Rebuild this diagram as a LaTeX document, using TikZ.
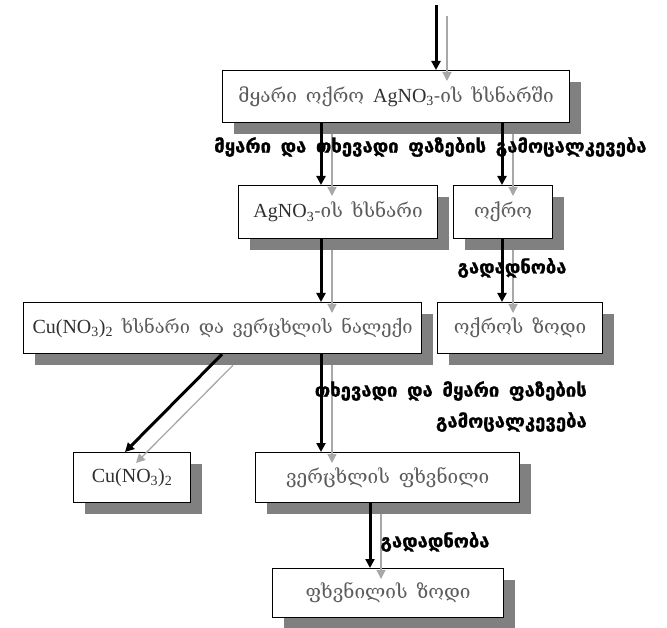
\documentclass[tikz,border=0pt]{standalone}
\usepackage{fontspec}
\setmainfont{Liberation Serif}
\newfontfamily\geo{DejaVu Serif}[WordSpace=1.5]
\newfontfamily\geolab{DejaVu Sans}[WordSpace=1.5,FakeBold=1]
\usetikzlibrary{arrows.meta,calc,shadows}
\definecolor{shadowgray}{HTML}{808080}
\definecolor{arrowgray}{HTML}{A8A8A8}
\definecolor{geotext}{HTML}{5C5C5C}
\definecolor{lattext}{HTML}{303030}
\newcommand\gt[1]{{\geo\color{geotext}\fontsize{19}{22}\selectfont #1}}
\newcommand\gts[1]{{\geo\color{geotext}\fontsize{18.3}{22}\selectfont #1}}
\newcommand\lt[1]{{\rmfamily\color{lattext}\fontsize{20}{22}\selectfont #1}}
\begin{document}
\begin{tikzpicture}[x=1pt,y=-1pt,
  box/.style={draw=black, line width=1.2pt, fill=white, inner sep=0pt, anchor=north west,
    drop shadow={shadow xshift=11pt, shadow yshift=-11pt, fill=shadowgray, opacity=1}},
  blk/.style={draw=black, line width=3pt, -{Triangle[width=9pt,length=9pt]}},
  gry/.style={draw=arrowgray, line width=1.3pt, -{Triangle[width=9pt,length=9pt]}},
  lab/.style={font=\geolab\bfseries\fontsize{18.5}{21}\selectfont, text=black, inner sep=0pt}]
\useasboundingbox (0,0) rectangle (667,628);
% boxes
\node[box, minimum width=347pt, minimum height=52pt] (B1) at (222,70)
  {\gt{მყარი ოქრო }\lt{AgNO\textsubscript{3}}\gt{-ის ხსნარში}};
\node[box, minimum width=199pt, minimum height=53pt] (B2) at (238,185)
  {\lt{AgNO\textsubscript{3}}\gt{-ის ხსნარი}};
\node[box, minimum width=99pt, minimum height=53pt] (B3) at (453,185)
  {\gt{ოქრო}};
\node[box, minimum width=398pt, minimum height=51pt] (B4) at (23,302)
  {\lt{Cu(NO\textsubscript{3})\textsubscript{2}}\gts{ ხსნარი და ვერცხლის ნალექი}};
\node[box, minimum width=165pt, minimum height=51pt] (B5) at (437,302)
  {\gt{ოქროს ზოდი}};
\node[box, minimum width=117pt, minimum height=50pt] (B6) at (73,452)
  {\lt{Cu(NO\textsubscript{3})\textsubscript{2}}};
\node[box, minimum width=264pt, minimum height=50pt] (B7) at (255,452)
  {\gt{ვერცხლის ფხვნილი}};
\node[box, minimum width=231pt, minimum height=49pt] (B8) at (272,568)
  {\gt{ფხვნილის ზოდი}};
% x positions of connectors
\coordinate (xa) at (436,5);
\coordinate (x1) at (321,0);
\coordinate (x2) at (502,0);
\coordinate (x3) at (370,0);
\coordinate (d1) at (222,0);
\coordinate (d2) at (125,0);
% black connectors
\draw[blk] (xa) -- (B1.north -| xa);
\draw[blk] (B1.south -| x1) -- (B2.north -| x1);
\draw[blk] (B1.south -| x2) -- (B3.north -| x2);
\draw[blk] (B2.south -| x1) -- (B4.north -| x1);
\draw[blk] (B3.south -| x2) -- (B5.north -| x2);
\draw[blk] (B4.south -| d1) -- (B6.north -| d2);
\draw[blk] (B4.south -| x1) -- (B7.north -| x1);
\draw[blk] (B7.south -| x3) -- (B8.north -| x3);
% grey shadow connectors
\draw[gry] ($(xa)+(11,11)$) -- ($(B1.north -| xa)+(11,11)$);
\draw[gry] ($(B1.south -| x1)+(11,11)$) -- ($(B2.north -| x1)+(11,11)$);
\draw[gry] ($(B1.south -| x2)+(11,11)$) -- ($(B3.north -| x2)+(11,11)$);
\draw[gry] ($(B2.south -| x1)+(11,11)$) -- ($(B4.north -| x1)+(11,11)$);
\draw[gry] ($(B3.south -| x2)+(11,11)$) -- ($(B5.north -| x2)+(11,11)$);
\draw[gry] ($(B4.south -| d1)+(11,11)$) -- ($(B6.north -| d2)+(11,11)$);
\draw[gry] ($(B4.south -| x1)+(11,11)$) -- ($(B7.north -| x1)+(11,11)$);
\draw[gry] ($(B7.south -| x3)+(11,11)$) -- ($(B8.north -| x3)+(11,11)$);
% labels
\node[lab, anchor=west] (L1) at (214,147) {მყარი და თხევადი ფაზების გამოცალკევება};
\node[lab] (L2) at (512,268) {გადადნობა};
\node[lab, anchor=north east, align=right] (L3) at (587,381) {თხევადი და მყარი ფაზების\\[10pt]გამოცალკევება};
\node[lab] (L4) at (435,542) {გადადნობა};
\end{tikzpicture}
\end{document}
